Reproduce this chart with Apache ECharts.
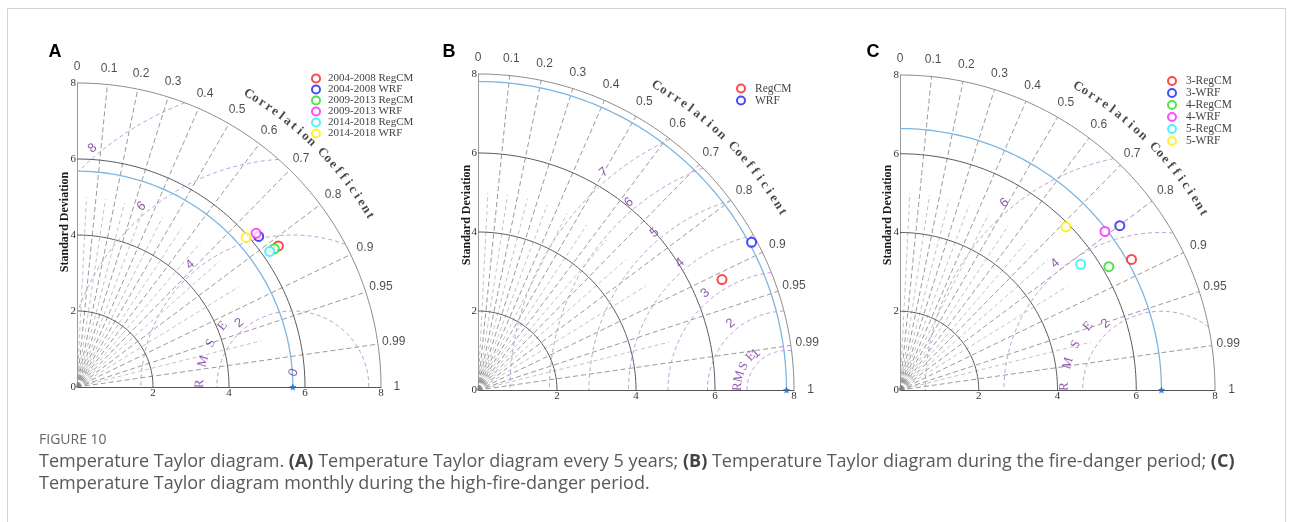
<!DOCTYPE html>
<html><head><meta charset="utf-8">
<script src="https://cdn.jsdelivr.net/npm/echarts@6/dist/echarts.min.js"></script>
<style>html,body{margin:0;padding:0;background:#fff}#c{width:1293px;height:522px}</style>
</head><body><div id="c"></div>
<script>
// ---------------- data ----------------
const corrTicks = [0, 0.1, 0.2, 0.3, 0.4, 0.5, 0.6, 0.7, 0.8, 0.9, 0.95, 0.99, 1];
const corrTickLabels = ['0', '0.1', '0.2', '0.3', '0.4', '0.5', '0.6', '0.7', '0.8', '0.9', '0.95', '0.99', '1'];
const corrMinor = [0.05, 0.15, 0.25, 0.35, 0.45, 0.55, 0.65, 0.75, 0.85, 0.97];
const stdArcs = [2, 4, 6];
const stdMax = 8;

// Panel A: every 5 years
const aNames = ['2004-2008 RegCM', '2004-2008 WRF', '2009-2013 RegCM', '2009-2013 WRF', '2014-2018 RegCM', '2014-2018 WRF'];
const aStd  = [6.47, 6.21, 6.34, 6.21, 6.20, 5.94];
const aCorr = [0.819, 0.770, 0.819, 0.759, 0.818, 0.749];
const aRefStd = 5.68;
const aRmseLevels = [0, 2, 4, 6, 8];

// Panel B: fire-danger period
const bNames = ['RegCM', 'WRF'];
const bStd  = [6.78, 7.87];
const bCorr = [0.911, 0.880];
const bRefStd = 7.81;
const bRmseLevels = [1, 2, 3, 4, 5, 6, 7];

// Panel C: monthly, high-fire-danger period
const cNames = ['3-RegCM', '3-WRF', '4-RegCM', '4-WRF', '5-RegCM', '5-WRF'];
const cStd  = [6.75, 6.97, 6.16, 6.58, 5.59, 5.91];
const cCorr = [0.871, 0.801, 0.861, 0.791, 0.821, 0.713];
const cRefStd = 6.64;
const cRmseLevels = [2, 4, 6];

// ---------------- layout / style ----------------
const sixColors = ['#ff1a1a', '#1a1aff', '#1fe01f', '#ff22ff', '#1ff0ff', '#ffee00'];
const panels = [
  { names: aNames, std: aStd, corr: aCorr, ref: aRefStd, rmse: aRmseLevels, colors: sixColors,
    grid: { left: 77, top: 83, width: 304, height: 304 },
    legend: { left: 311, top: 73, itemWidth: 14, fs: 11 },
    rmseWord: ['R', 'M', 'S', 'E'], rmseWordR: 2.45, rmseWordAng: [178, 164, 152, 139],
    letter: 'A', letterPos: [55, 52], sdPos: [65, 222] },
  { names: bNames, std: bStd, corr: bCorr, ref: bRefStd, rmse: bRmseLevels, colors: ['#ff1a1a', '#1a1aff'],
    grid: { left: 478, top: 74, width: 316, height: 316 },
    legend: { left: 736, top: 82.5, itemWidth: 18, fs: 11.5 },
    rmseWord: ['R', 'M', 'S', 'E'], rmseWordR: 1.24, rmseWordAng: [176, 164, 151, 137],
    letter: 'B', letterPos: [449, 52], sdPos: [467, 215] },
  { names: cNames, std: cStd, corr: cCorr, ref: cRefStd, rmse: cRmseLevels, colors: sixColors,
    grid: { left: 900, top: 75, width: 315, height: 315 },
    legend: { left: 1167, top: 75, itemWidth: 18, fs: 11.5 },
    rmseWord: ['R', 'M', 'S', 'E'], rmseWordR: 2.47, rmseWordAng: [178, 164, 152, 139],
    letter: 'C', letterPos: [873, 52], sdPos: [888, 215] }
];

const D2R = Math.PI / 180;
function arcPts(cx, r, a0, a1, n) {
  const p = [];
  for (let i = 0; i <= n; i++) {
    const a = a0 + (a1 - a0) * i / n;
    p.push([cx + r * Math.cos(a), r * Math.sin(a)]);
  }
  return p;
}
function lineS(i, data, ls, z) {
  return { type: 'line', xAxisIndex: i, yAxisIndex: i, data: data, showSymbol: false, symbol: 'none',
    silent: true, clip: false, animation: false, lineStyle: ls, z: z || 2 };
}
function textS(i, items, lab, z) {
  return { type: 'scatter', xAxisIndex: i, yAxisIndex: i, symbolSize: 1, silent: true, clip: false,
    animation: false, z: z || 6, itemStyle: { color: 'rgba(0,0,0,0)' },
    label: Object.assign({ show: true, position: 'inside', formatter: '{b}' }, lab),
    data: items.map(it => ({ name: it.t, value: [it.x, it.y], label: { rotate: it.rot || 0 } })) };
}

const grids = [], xAxes = [], yAxes = [], series = [], legends = [], graphics = [];

panels.forEach((P, i) => {
  grids.push(P.grid);
  xAxes.push({ type: 'value', gridIndex: i, min: 0, max: stdMax, interval: 2, splitLine: { show: false },
    axisTick: { show: false }, axisLine: { show: true, lineStyle: { color: '#555', width: 1 } },
    axisLabel: { showMinLabel: false, margin: 1, color: '#333', fontFamily: 'Liberation Serif', fontSize: 11 } });
  yAxes.push({ type: 'value', gridIndex: i, min: 0, max: stdMax, interval: 2, splitLine: { show: false },
    axisTick: { show: false }, axisLine: { show: true, lineStyle: { color: '#9a9a9a', width: 1 } },
    axisLabel: { margin: 1, color: '#333', fontFamily: 'Liberation Serif', fontSize: 11 } });

  // radial correlation lines (minor ones shorter)
  corrMinor.forEach(c => {
    series.push(lineS(i, [[0, 0], [5 * c, 5 * Math.sqrt(1 - c * c)]],
      { color: '#ababab', width: 0.7, type: [4, 3] }, 1));
  });
  corrTicks.slice(1, -1).forEach(c => {
    series.push(lineS(i, [[0, 0], [stdMax * c, stdMax * Math.sqrt(1 - c * c)]],
      { color: '#808080', width: 0.8, type: [5, 3] }, 1));
  });
  // std arcs
  stdArcs.forEach(r => series.push(lineS(i, arcPts(0, r, 0, Math.PI / 2, 90), { color: '#5a5a5a', width: 1 }, 2)));
  series.push(lineS(i, arcPts(0, stdMax, 0, Math.PI / 2, 120), { color: '#8c8c8c', width: 1 }, 2));

  // RMSE circles centred on reference
  const R = P.ref;
  P.rmse.forEach(rho => {
    if (rho <= 0) return;
    const cmin = Math.min(1, (stdMax * stdMax - R * R - rho * rho) / (2 * R * rho));
    const cmax = Math.max(-1, -R / rho);
    const t0 = Math.acos(cmin), t1 = Math.acos(cmax);
    series.push(lineS(i, arcPts(R, rho, t0, t1, 80), { color: '#bf9fda', width: 1, type: [4, 3] }, 2));
  });
  // reference std arc
  series.push(lineS(i, arcPts(0, R, 0, Math.PI / 2, 90), { color: '#7db6e0', width: 1.3 }, 3));
  // reference star
  series.push({ type: 'scatter', xAxisIndex: i, yAxisIndex: i, silent: true, clip: false, animation: false, z: 7,
    symbol: 'path://M0,-10L2.9,-4L9.5,-3.1L4.7,1.5L5.9,8.1L0,5L-5.9,8.1L-4.7,1.5L-9.5,-3.1L-2.9,-4Z',
    symbolSize: 7, itemStyle: { color: '#1f66c4' }, data: [[R, 0]] });

  // RMSE labels
  const rl = P.rmse.map(rho => {
    if (rho === 0) return { t: '0', x: R + 0.02, y: 0.38, rot: 70 };
    const a = 130 * D2R, rr = rho + 0.2;
    return { t: String(rho), x: R + rr * Math.cos(a), y: rr * Math.sin(a), rot: 40 };
  });
  series.push(textS(i, rl, { color: '#73309a', fontFamily: 'Liberation Sans', fontSize: 13 }));
  const wl = P.rmseWord.map((ch, k) => {
    const a = P.rmseWordAng[k];
    return { t: ch, x: R + P.rmseWordR * Math.cos(a * D2R), y: P.rmseWordR * Math.sin(a * D2R), rot: a - 90 };
  });
  series.push(textS(i, wl, { color: '#73309a', fontFamily: 'Liberation Serif', fontSize: 13 }));

  // correlation tick labels
  const cl = corrTicks.map((c, k) => ({ t: corrTickLabels[k], x: 8.42 * c, y: 8.42 * Math.sqrt(1 - c * c) }));
  series.push(textS(i, cl, { color: '#1f1f1f', fontFamily: 'Liberation Sans', fontSize: 12 }));

  // curved axis title
  const title = 'Correlation Coefficient'.split('');
  const a0 = 59.6, a1 = 30.3;
  const tl = title.map((ch, k) => {
    const a = a0 + (a1 - a0) * k / (title.length - 1);
    return { t: ch, x: 8.93 * Math.cos(a * D2R), y: 8.93 * Math.sin(a * D2R), rot: a - 90 };
  }).filter(o => o.t !== ' ');
  series.push(textS(i, tl, { color: '#1a1a1a', fontFamily: 'Liberation Serif', fontWeight: 'bold', fontSize: 13 }));

  // model points
  P.names.forEach((nm, k) => {
    const s = P.std[k], c = P.corr[k];
    series.push({ type: 'scatter', name: nm, xAxisIndex: i, yAxisIndex: i, symbol: 'emptyCircle', symbolSize: 9,
      clip: false, animation: false, z: 10,
      itemStyle: { color: P.colors[k], borderColor: P.colors[k], borderWidth: 1.5 },
      data: [[s * c, s * Math.sqrt(1 - c * c)]] });
  });

  legends.push({ show: true, orient: 'vertical', left: P.legend.left, top: P.legend.top, padding: 0,
    itemWidth: P.legend.itemWidth, itemHeight: 8, itemGap: 0, selectedMode: false,
    textStyle: { fontFamily: 'Liberation Serif', fontSize: P.legend.fs, color: '#444', lineHeight: 9.5 },
    data: P.names.map(n => ({ name: n, icon: 'emptyCircle' })) });

  graphics.push({ type: 'text', x: P.letterPos[0], y: P.letterPos[1], silent: true,
    style: { text: P.letter, fill: '#000', font: 'bold 18px "Liberation Sans"', align: 'center', verticalAlign: 'middle' } });
  graphics.push({ type: 'text', x: P.sdPos[0], y: P.sdPos[1], rotation: Math.PI / 2, silent: true,
    style: { text: 'Standard Deviation', fill: '#1a1a1a', font: 'bold 12px "Liberation Serif"', align: 'center', verticalAlign: 'middle' } });
});

graphics.push({ type: 'rect', silent: true, z: -10, shape: { x: 7.5, y: 8.5, width: 1278, height: 600 },
  style: { fill: 'none', stroke: '#d4d4d4', lineWidth: 1 } });
graphics.push({ type: 'text', x: 39, y: 440, silent: true,
  style: { text: 'FIGURE 10', fill: '#666', font: '14px "Open Sans"', verticalAlign: 'middle' } });
const capRich = { n: { fill: '#595959', font: '18px "Open Sans"' }, b: { fill: '#444', font: 'bold 18px "Open Sans"' } };
graphics.push({ type: 'text', x: 39, y: 462, silent: true,
  style: { text: '{n|Temperature Taylor diagram. }{b|(A)}{n| Temperature Taylor diagram every 5 years; }{b|(B)}{n| Temperature Taylor diagram during the fire-danger period; }{b|(C)}',
    rich: capRich, verticalAlign: 'middle' } });
graphics.push({ type: 'text', x: 39, y: 484, silent: true,
  style: { text: '{n|Temperature Taylor diagram monthly during the high-fire-danger period.}', rich: capRich, verticalAlign: 'middle' } });

const chart = echarts.init(document.getElementById('c'), null, { renderer: 'canvas' });
chart.setOption({
  animation: false, backgroundColor: '#fff',
  grid: grids, xAxis: xAxes, yAxis: yAxes, legend: legends, series: series, graphic: graphics
});
</script></body></html>
